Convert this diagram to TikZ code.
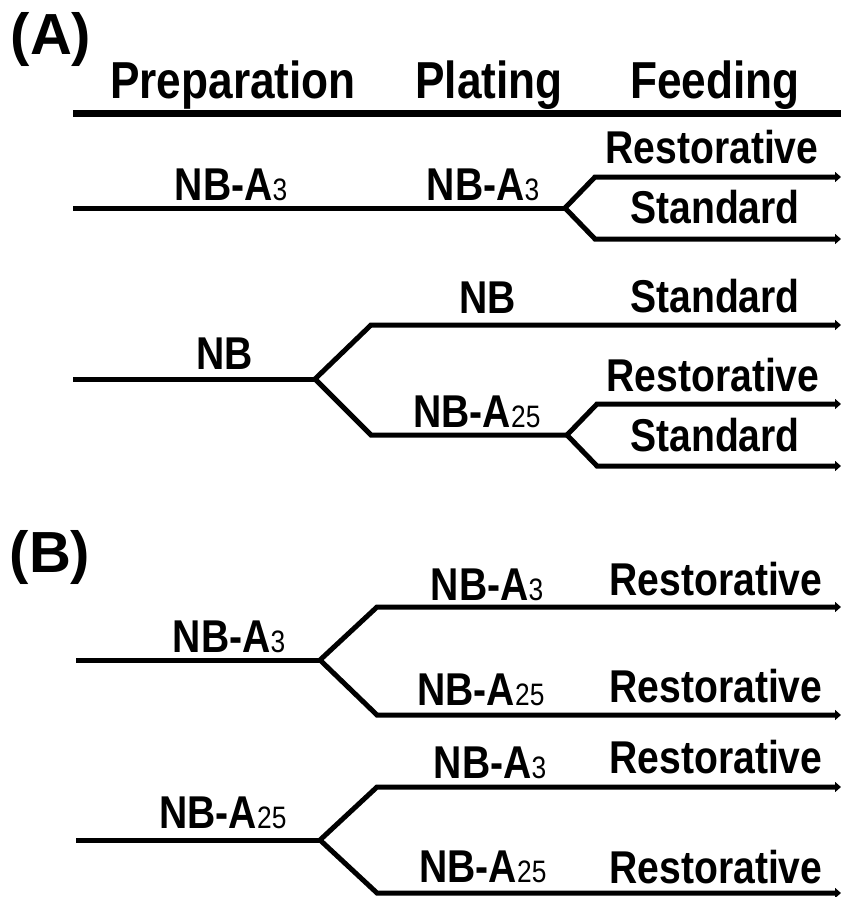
\documentclass[tikz,border=0pt]{standalone}
\usepackage{fontspec}
\setmainfont[FakeStretch=0.85]{Liberation Sans}
\newfontfamily\panelfont{Liberation Sans}
\usetikzlibrary{arrows.meta}
\newcommand{\dsub}[1]{{\mdseries\fontsize{31}{31}\selectfont #1}}
\tikzset{
  lbl/.style={anchor=base, inner sep=0pt, font=\bfseries\fontsize{46}{50}\selectfont},
  hdr/.style={anchor=base, inner sep=0pt, font=\bfseries\fontsize{52}{56}\selectfont},
  panel/.style={inner sep=0pt, font=\panelfont\bfseries\fontsize{58}{62}\selectfont},
  branch/.style={line width=5pt, line join=miter},
  feed/.style={branch, -{Triangle[length=6pt,width=10pt]}},
}
\begin{document}
\begin{tikzpicture}[x=1pt, y=-1pt]
        \useasboundingbox (0,0) rectangle (841,897);
        % panel letters and header
        \node[panel] (pA) at (51,40) {(A)};
        \node[panel] (pB) at (50,557) {(B)};
        \node[hdr] (h1) at (233,98) {Preparation};
        \node[hdr] (h2) at (489,98) {Plating};
        \node[hdr] (h3) at (715,98) {Feeding};
        \coordinate (hd-l) at (73,113);
        \coordinate (hd-r) at (841,113);
        % points (A), first tree
        \coordinate (a1)     at (73,208);
        \coordinate (a1-1)   at (565,208);
        \coordinate (a1-1-1) at (595,177);
        \coordinate (a1-1-1-e) at (841,177);
        \coordinate (a1-1-2) at (595,239);
        \coordinate (a1-1-2-e) at (841,239);
        % points (A), second tree
        \coordinate (a2)     at (73,379);
        \coordinate (a2-1)   at (315,379);
        \coordinate (a2-1-1) at (371,325);
        \coordinate (a2-1-1-e) at (841,325);
        \coordinate (a2-1-2) at (371,435);
        \coordinate (a2-1-2-s) at (567,435);
        \coordinate (a2-1-2-1) at (597,404);
        \coordinate (a2-1-2-1-e) at (841,404);
        \coordinate (a2-1-2-2) at (597,466);
        \coordinate (a2-1-2-2-e) at (841,466);
        % points (B)
        \coordinate (b1)     at (76,660);
        \coordinate (b1-1)   at (320,660);
        \coordinate (b1-1-1) at (377,607);
        \coordinate (b1-1-1-e) at (841,607);
        \coordinate (b1-1-2) at (377,715);
        \coordinate (b1-1-2-e) at (841,715);
        \coordinate (b2)     at (76,840);
        \coordinate (b2-1)   at (320,840);
        \coordinate (b2-1-1) at (377,787);
        \coordinate (b2-1-1-e) at (841,787);
        \coordinate (b2-1-2) at (377,893);
        \coordinate (b2-1-2-e) at (841,893);
        % labels
        \node[lbl] (la1)     at (231,200) {NB-A\dsub{3}};
        \node[lbl] (la1-1)   at (483,200) {NB-A\dsub{3}};
        \node[lbl] (la1-1-1) at (712,163) {Restorative};
        \node[lbl] (la1-1-2) at (715,223) {Standard};
        \node[lbl] (la2)     at (225,369) {NB};
        \node[lbl] (la2-1)   at (488,313) {NB};
        \node[lbl] (la2-1-f) at (715,312) {Standard};
        \node[lbl] (la2-2)   at (477,427) {NB-A\dsub{25}};
        \node[lbl] (la2-2-1) at (713,391) {Restorative};
        \node[lbl] (la2-2-2) at (715,451) {Standard};
        \node[lbl] (lb1)     at (229,652) {NB-A\dsub{3}};
        \node[lbl] (lb1-1)   at (487,600) {NB-A\dsub{3}};
        \node[lbl] (lb1-1-f) at (716,595) {Restorative};
        \node[lbl] (lb1-2)   at (481,705) {NB-A\dsub{25}};
        \node[lbl] (lb1-2-f) at (716,702) {Restorative};
        \node[lbl] (lb2)     at (223,828) {NB-A\dsub{25}};
        \node[lbl] (lb2-1)   at (490,778) {NB-A\dsub{3}};
        \node[lbl] (lb2-1-f) at (716,773) {Restorative};
        \node[lbl] (lb2-2)   at (483,882) {NB-A\dsub{25}};
        \node[lbl] (lb2-2-f) at (716,883) {Restorative};
        % lines
        \draw[line width=7pt] (hd-l) -- (hd-r);
        \draw[branch] (a1) -- (a1-1);
        \draw[feed] (a1-1) -- (a1-1-1) -- (a1-1-1-e);
        \draw[feed] (a1-1) -- (a1-1-2) -- (a1-1-2-e);
        \draw[branch] (a2) -- (a2-1);
        \draw[feed] (a2-1) -- (a2-1-1) -- (a2-1-1-e);
        \draw[branch] (a2-1) -- (a2-1-2) -- (a2-1-2-s);
        \draw[feed] (a2-1-2-s) -- (a2-1-2-1) -- (a2-1-2-1-e);
        \draw[feed] (a2-1-2-s) -- (a2-1-2-2) -- (a2-1-2-2-e);
        \draw[branch] (b1) -- (b1-1);
        \draw[feed] (b1-1) -- (b1-1-1) -- (b1-1-1-e);
        \draw[feed] (b1-1) -- (b1-1-2) -- (b1-1-2-e);
        \draw[branch] (b2) -- (b2-1);
        \draw[feed] (b2-1) -- (b2-1-1) -- (b2-1-1-e);
        \draw[feed] (b2-1) -- (b2-1-2) -- (b2-1-2-e);
\end{tikzpicture}
\end{document}
